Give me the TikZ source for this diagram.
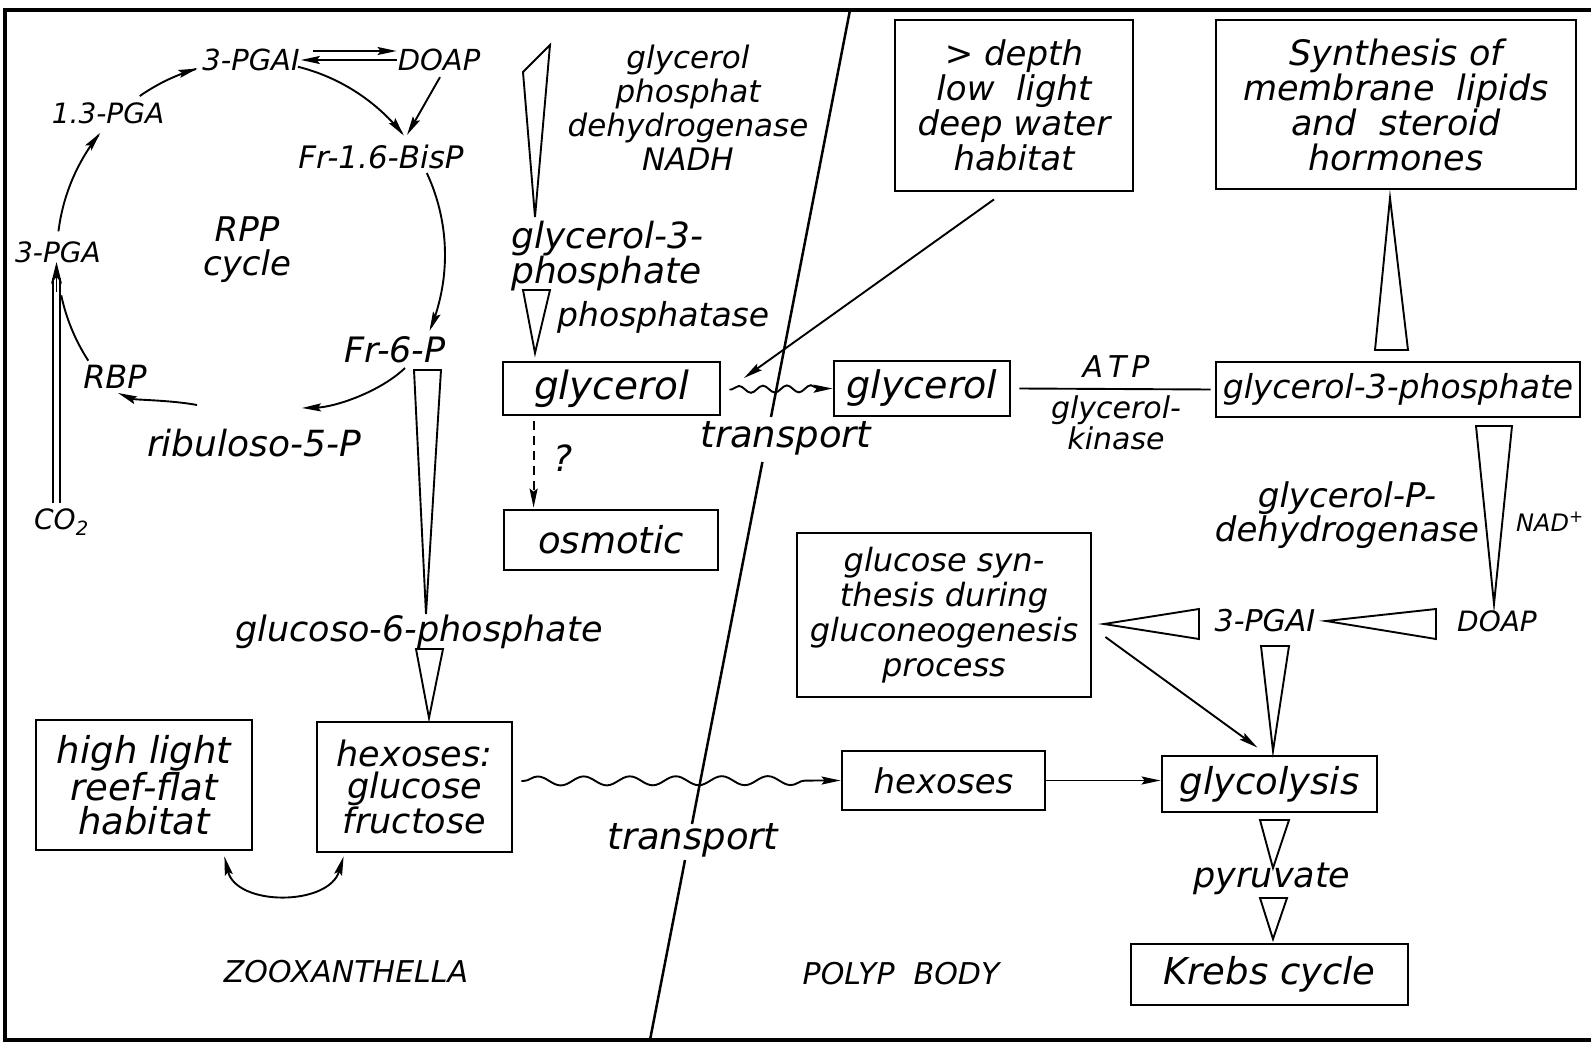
\documentclass[tikz,border=0pt]{standalone}
\usepackage{fontspec}
\setmainfont{DejaVu Sans}
\usetikzlibrary{arrows.meta,calc,decorations.pathmorphing}
\begin{document}
\begin{tikzpicture}[x=1pt,y=-1pt,
  lbl/.style 2 args={font=\itshape\fontsize{#1}{#2}\selectfont, inner sep=0pt, align=center},
  box/.style={draw, line width=2.8pt, inner sep=0pt, align=center},
  tip/.style={-{Stealth[length=19pt,width=8pt,inset=3pt]}},
  dbltip/.style={{Stealth[length=19pt,width=8pt,inset=3pt]}-{Stealth[length=19pt,width=8pt,inset=3pt]}},
  arr/.style={line width=1.9pt, tip},
  wedgesty/.style={line width=1.9pt, line join=miter},
  framesty/.style={line width=3.2pt},
  divsty/.style={line width=2.5pt},
  wavy/.style={line width=1.9pt, decorate, decoration={snake, amplitude=#1, segment length=24pt, pre length=2pt, post length=14pt}},
]
\useasboundingbox (0,0) rectangle (1591,1051);

% frame
\draw[framesty] (1591,10) -- (5,10) -- (5,1040) -- (1591,1040);

% divider
\draw[divsty] (850,10) -- (771,417);
\draw[divsty] (762.4,462) -- (692,824);
\draw[divsty] (685,860) -- (650,1040);

% ---------- RPP cycle ----------
\node[lbl={29}{29}] (pgai) at (251,60) {3-PGAI};
\node[lbl={29}{29}] (doap) at (439,60) {DOAP};
\node[lbl={31}{31}] (f16) at (381,157) {Fr-1.6-BisP};
\node[lbl={35}{35}] (f6p) at (395,350) {Fr-6-P};
\node[lbl={36}{36}] (rib) at (254,443) {ribuloso-5-P};
\node[lbl={32}{32}] (rbp) at (115,377) {RBP};
\node[lbl={28}{28}] (pga) at (58,252) {3-PGA};
\node[lbl={28}{28}] (pga13) at (108,113) {1.3-PGA};
\node[lbl={34}{34}] (rpp) at (247,250) {RPP\\cycle};
\node[lbl={28}{28}, anchor=west] (co2) at (34,522) {CO\textsubscript{2}};

\coordinate (v16) at (407,135);
\draw[arr] plot[domain=187:219, samples=40] ({251+194*cos(\x)},{255+194*sin(\x)});
\draw[arr] plot[domain=235:254, samples=40] ({251+194*cos(\x)},{255+194*sin(\x)});
\draw[arr] plot[domain=284:322, samples=40] ({251+194*cos(\x)},{255+194*sin(\x)});
\draw[arr] plot[domain=335:383, samples=40] ({251+194*cos(\x)},{255+194*sin(\x)});
\draw[line width=1.9pt] plot[domain=147:168, samples=40] ({251+194*cos(\x)},{255+194*sin(\x)});
\draw[arr] (405,368) .. controls (380,392) and (335,407) .. (302,408);
\draw[arr] (197,405) .. controls (170,400) and (135,400) .. (118,393);
\draw[arr] ($(doap.south)+(1,6)$) -- (v16);
\draw[arr] ($(pgai.east)+(13,-9)$) -- ($(doap.west)+(-1,-9)$);
\draw[arr] ($(doap.west)+(-1,0)$) -- ($(pgai.east)+(1,0)$);

% CO2 double arrow
\draw[line width=1.8pt] (53,503) -- (53,278);
\draw[line width=1.8pt] (60,503) -- (60,278);
\draw[line width=1.6pt, -{Stealth[length=22pt,width=11pt]}] (56.5,292) -- (56.5,262);

% ---------- zooxanthella middle column ----------
\node[lbl={31}{34}] (gpd) at (688,108) {glycerol\\phosphat\\dehydrogenase\\NADH};
\node[lbl={36}{31}, align=left, anchor=west] (g3ptop) at (511,256) {glycerol-3-\\phosphate};
\node[lbl={33}{33}, anchor=west] (phase) at (557,317) {phosphatase};
\node[box, minimum width=217pt, minimum height=53pt, lbl={39}{39}] (gly1) at (611.5,388.5) {glycerol};
\node[box, minimum width=214pt, minimum height=60pt, lbl={37}{37}] (osm) at (611,540) {osmotic};
\node[lbl={36}{36}] (qm) at (563,458) {?};
\node[lbl={37}{37}] (tr1) at (786,438) {transport};

\draw[wedgesty] (523,72) -- (550,45) -- (535,217) -- cycle;
\draw[wedgesty] (523,290) -- (550,290) -- (535,353) -- cycle;
\draw[line width=1.9pt, dash pattern=on 9pt off 6pt, tip] ($(gly1.south west)+(32,5)$) -- ($(osm.north west)+(31,-1)$);

% ---------- left bottom ----------
\node[lbl={35}{35}] (g6p) at (419,632) {glucoso-6-phosphate};
\node[box, minimum width=216pt, minimum height=130pt, lbl={37}{34}] (hl) at (144,785) {high light\\reef-flat\\habitat};
\node[box, minimum width=195pt, minimum height=130pt, lbl={35}{32}] (hexfr) at (414.5,787) {hexoses:\\glucose\\fructose};
\node[lbl={30}{30}] (zoox) at (346,972) {ZOOXANTHELLA};
\node[lbl={37}{37}] (tr2) at (693,840) {transport};

\draw[wedgesty] (414,370) -- (441,370) -- (426,614) -- cycle;
\draw[wedgesty] (416,649) -- (443,649) -- (429,718) -- cycle;
\draw[line width=1.9pt, dbltip] ($(hl.south east)+(-29,5)$) .. controls +(12,50) and +(-15,50) .. ($(hexfr.south west)+(28,3)$);

% ---------- polyp body ----------
\node[box, minimum width=238pt, minimum height=171pt, lbl={34}{35}] (depth) at (1014,105.5) {> depth\\low\ \ light\\deep water\\habitat};
\node[box, minimum width=360pt, minimum height=169pt, lbl={35}{35}] (synth) at (1396,104.5) {Synthesis of\\membrane\ \ lipids\\and\ \ steroid\\hormones};
\node[box, minimum width=176pt, minimum height=55pt, lbl={38}{38}] (gly2) at (922,388.5) {glycerol};
\node[box, minimum width=364pt, minimum height=55pt, lbl={33}{33}] (g3p) at (1398,389.5) {glycerol-3-phosphate};
\node[lbl={30}{30}] (atp) at (1116,367) {A\hspace{5pt}T\hspace{5pt}P};
\node[lbl={30}{31}] (kin) at (1116,423) {glycerol-\\kinase};
\node[lbl={34}{31}] (gpdh) at (1347,515) {glycerol-P-\\dehydrogenase};
\node[lbl={24}{24}, anchor=west] (nad) at (1516,522) {NAD\textsuperscript{+}};
\node[lbl={28}{28}] (doap2) at (1497,621) {DOAP};
\node[lbl={30}{30}] (pgai2) at (1265,621) {3-PGAI};
\node[box, minimum width=294pt, minimum height=164pt, lbl={32}{35}] (glucsyn) at (944,615) {glucose syn-\\thesis during\\gluconeogenesis\\process};
\node[box, minimum width=203pt, minimum height=59pt, lbl={34}{34}] (hex2) at (943.5,780.5) {hexoses};
\node[box, minimum width=215pt, minimum height=56pt, lbl={37}{37}] (glycol) at (1269.5,784) {glycolysis};
\node[lbl={35}{35}] (pyr) at (1272,879) {pyruvate};
\node[box, minimum width=277pt, minimum height=61pt, lbl={37}{37}] (krebs) at (1269.5,974.5) {Krebs cycle};
\node[lbl={30}{30}] (polyp) at (901,974) {POLYP\ \ BODY};

\coordinate (gend) at (744,378);
\draw[arr] ($(depth.south)+(-20,7)$) -- (gend);
\draw[wavy=3.5pt, tip] ($(gly1.east)+(8,1)$) -- (gly2.west);
\draw[line width=1.9pt, decorate, decoration={snake, amplitude=4.5pt, segment length=46pt, pre length=2pt, post length=14pt}, tip] ($(hexfr.east)+(8,-6)$) -- (hex2.west);
\draw[line width=1.9pt] ($(gly2.east)+(8,0)$) -- ($(g3p.west)+(-4,0)$);
\draw[arr] (hex2.east) -- (hex2.east -| glycol.west);
\draw[arr] ($(glucsyn.east)+(13,22)$) -- ($(glycol.north)+(-12,-7)$);

\draw[wedgesty] (1375,350) -- (1408,350) -- (1390,198) -- cycle;
\draw[wedgesty] (1476,426) -- (1512,426) -- (1494,604) -- cycle;
\draw[wedgesty] (1436,609) -- (1436,639) -- (1326,621) -- cycle;
\draw[wedgesty] (1199,609) -- (1199,639) -- (1104,624) -- cycle;
\draw[wedgesty] (1261,646) -- (1289,646) -- (1273,751) -- cycle;
\draw[wedgesty] (1260,820) -- (1289,820) -- (1273,868) -- cycle;
\draw[wedgesty] (1260,898) -- (1287,898) -- (1273,939) -- cycle;
\end{tikzpicture}
\end{document}
